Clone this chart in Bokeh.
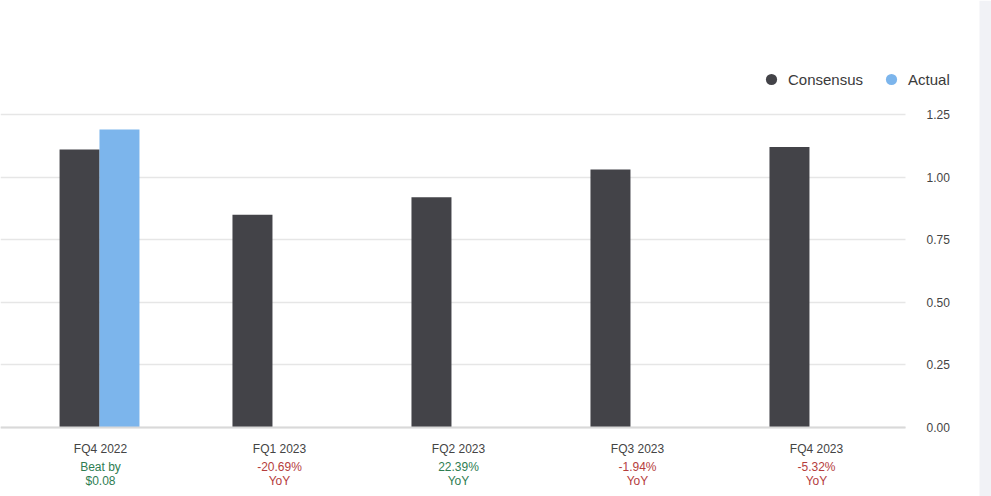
from bokeh.plotting import figure
from bokeh.models import (Range1d, FixedTicker, Legend, LegendItem,
                          ColumnDataSource, NumeralTickFormatter, BoxAnnotation)
from bokeh.core.properties import value
from bokeh.embed import file_html
from bokeh.resources import INLINE

# ---- data ----
categories = ["FQ4 2022", "FQ1 2023", "FQ2 2023", "FQ3 2023", "FQ4 2023"]
consensus = [1.11, 0.85, 0.92, 1.03, 1.12]
actual = [1.19, None, None, None, None]
note_line1 = ["Beat by", "-20.69%", "22.39%", "-1.94%", "-5.32%"]
note_line2 = ["$0.08", "YoY", "YoY", "YoY", "YoY"]
note_positive = [True, False, True, False, False]
y_ticks = [0, 0.25, 0.5, 0.75, 1.0, 1.25]

FONT = "Liberation Sans"
C_CONS = "#434348"
C_ACT = "#7cb5ec"
C_GREEN = "#2e7d52"
C_RED = "#b53d3d"

idx = list(range(len(categories)))
W = 991
H = 496
PXU = (427 - 114) / 1.25          # pixels per data unit (vertical)
CAT = 179.0                        # pixels per category
X0 = -100 / CAT
XR = 805 / CAT                     # right edge of plotting area
XS = X0 + 979 / CAT                # start of the grey page strip
p = figure(width=W, height=H, output_backend="svg", toolbar_location=None,
           x_range=Range1d(X0, X0 + W / CAT),
           y_range=Range1d(-(H - 427) / PXU, 1.25 + 114 / PXU),
           y_axis_location="right",
           min_border_left=0, min_border_right=0, min_border_top=0,
           min_border_bottom=0)
p.outline_line_color = None
p.background_fill_color = "white"
p.border_fill_color = "white"

bw = 40 / CAT
cons_x = [i - (0.117 if actual[i] is not None else 0.151) for i in idx]
act_i = [i for i in idx if actual[i] is not None]
act_x = [i + 0.106 for i in act_i]
act_v = [actual[i] for i in act_i]

p.vbar(x=cons_x, top=consensus, bottom=0, width=bw, fill_color=C_CONS,
       line_color=None)
p.vbar(x=act_x, top=act_v, bottom=0, width=bw, fill_color=C_ACT,
       line_color=None)

# legend markers (circles, zero size on the plot)
lc = p.scatter(x=cons_x, y=consensus, marker="circle", size=0,
               fill_color=C_CONS, line_color=None)
la = p.scatter(x=act_x, y=act_v, marker="circle", size=0,
               fill_color=C_ACT, line_color=None)
legend = Legend(items=[LegendItem(label="Consensus", renderers=[lc]),
                       LegendItem(label="Actual", renderers=[la])],
                orientation="horizontal", location=(757, H - 93),
                glyph_width=28, glyph_height=28, label_standoff=3, spacing=14,
                padding=0, margin=0, border_line_color=None,
                background_fill_alpha=0, label_text_font=FONT,
                label_text_font_size="15px", label_text_color="#3a3a3a",
                label_height=28)
p.add_layout(legend)

# x axis drawn at y = 0
xa = p.xaxis[0]
xa.fixed_location = 0
xa.bounds = (X0, XR)
xa.ticker = FixedTicker(ticks=idx)
xa.major_label_overrides = {i: c for i, c in zip(idx, categories)}
xa.axis_line_color = "#d9d9d9"
xa.axis_line_width = 2
xa.major_tick_line_color = None
xa.minor_tick_line_color = None
xa.major_label_standoff = 8
xa.major_label_text_font = FONT
xa.major_label_text_font_size = "12px"
xa.major_label_text_color = "#444444"

# y axis at the right edge of the plotting area
ya = p.yaxis[0]
ya.fixed_location = XR
ya.ticker = FixedTicker(ticks=y_ticks)
ya.formatter = NumeralTickFormatter(format="0.00")
ya.axis_line_color = None
ya.major_tick_line_color = None
ya.minor_tick_line_color = None
ya.major_label_standoff = 15
ya.major_label_text_font = FONT
ya.major_label_text_font_size = "12px"
ya.major_label_text_color = "#444444"

p.xgrid.grid_line_color = None
p.ygrid.ticker = FixedTicker(ticks=y_ticks)
p.ygrid.grid_line_color = "#e6e6e6"
p.ygrid.grid_line_width = 1.5

# keep grid lines inside the plotting area, grey strip at the page edge
mask = BoxAnnotation(left=XR, fill_color="white", fill_alpha=1,
                     line_color=None, level="underlay")
p.add_layout(mask)
strip = BoxAnnotation(left=XS, fill_color="#f1f2f6", fill_alpha=1,
                      line_color=None, level="underlay")
p.add_layout(strip)

# notes under the categories
colors = [C_GREEN if pos else C_RED for pos in note_positive]
src = ColumnDataSource(dict(x=idx, y1=[-(466 - 427) / PXU] * len(idx),
                            y2=[-(480 - 427) / PXU] * len(idx),
                            t1=note_line1, t2=note_line2, c=colors))
for ycol, tcol in (("y1", "t1"), ("y2", "t2")):
    p.text(x="x", y=ycol, text=tcol, source=src, text_color="c",
           text_align="center", text_baseline="middle",
           text_font=value(FONT), text_font_size="12px")

open("out.html", "w").write(file_html(p, INLINE))
